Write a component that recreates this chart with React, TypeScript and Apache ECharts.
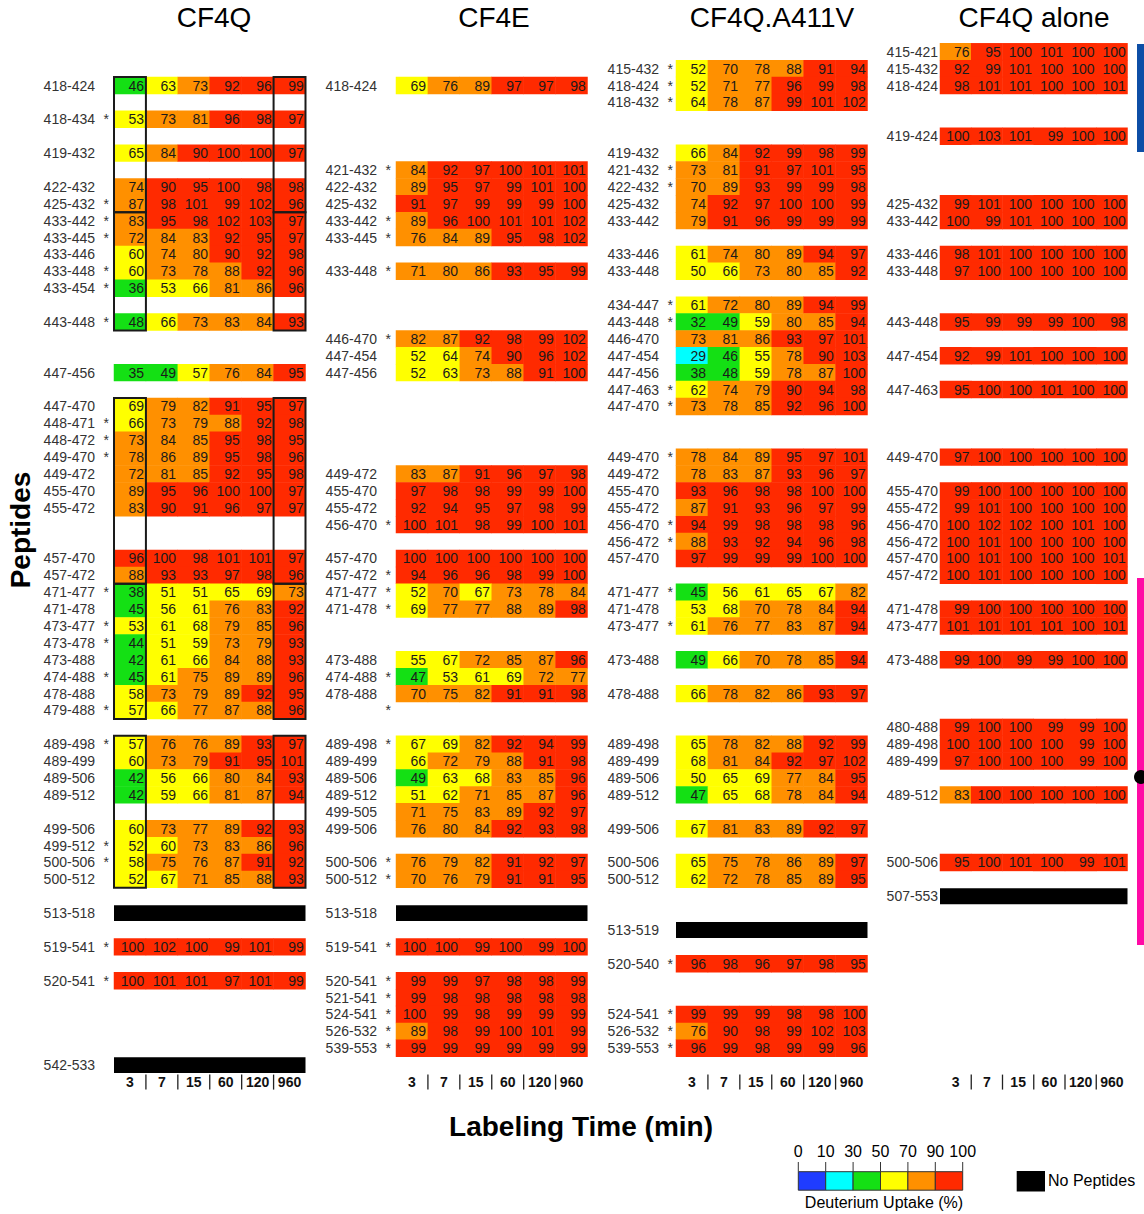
import React, { useEffect, useRef } from 'react';
import * as echarts from 'echarts';

const FONT = '"Liberation Sans", Arial, Helvetica, sans-serif';
const TIMES = ['3', '7', '15', '60', '120', '960'];
const SLOT_MIN = -2;
const SLOT_MAX = 58;

// ---------- CF4Q ----------
const CF4Q_NAMES = ['418-424','418-434','419-432','422-432','425-432','433-442','433-445','433-446','433-448','433-454','443-448','447-456','447-470','448-471','448-472','449-470','449-472','455-470','455-472','457-470','457-472','471-477','471-478','473-477','473-478','473-488','474-488','478-488','479-488','489-498','489-499','489-506','489-512','499-506','499-512','500-506','500-512','513-518','519-541','520-541','542-533'];
const CF4Q_ROWS = [0,2,4,6,7,8,9,10,11,12,14,17,19,20,21,22,23,24,25,28,29,30,31,32,33,34,35,36,37,39,40,41,42,44,45,46,47,49,51,53,58];
const CF4Q_STARRED = ['418-434','425-432','433-442','433-445','433-448','433-454','443-448','448-471','448-472','449-470','471-477','473-477','473-478','474-488','479-488','489-498','499-512','500-506','519-541','520-541'];
const CF4Q_NO_PEPTIDES = ['513-518', '542-533'];
const CF4Q_VALUES: (number[] | null)[] = [
  [46,63,73,92,96,99],
  [53,73,81,96,98,97],
  [65,84,90,100,100,97],
  [74,90,95,100,98,98],
  [87,98,101,99,102,96],
  [83,95,98,102,103,97],
  [72,84,83,92,95,97],
  [60,74,80,90,92,98],
  [60,73,78,88,92,96],
  [36,53,66,81,86,96],
  [48,66,73,83,84,93],
  [35,49,57,76,84,95],
  [69,79,82,91,95,97],
  [66,73,79,88,92,98],
  [73,84,85,95,98,95],
  [78,86,89,95,98,96],
  [72,81,85,92,95,98],
  [89,95,96,100,100,97],
  [83,90,91,96,97,97],
  [96,100,98,101,101,97],
  [88,93,93,97,98,96],
  [38,51,51,65,69,73],
  [45,56,61,76,83,92],
  [53,61,68,79,85,96],
  [44,51,59,73,79,93],
  [42,61,66,84,88,93],
  [45,61,75,89,89,96],
  [58,73,79,89,92,95],
  [57,66,77,87,88,96],
  [57,76,76,89,93,97],
  [60,73,79,91,95,101],
  [42,56,66,80,84,93],
  [42,59,66,81,87,94],
  [60,73,77,89,92,93],
  [52,60,73,83,86,96],
  [58,75,76,87,91,92],
  [52,67,71,85,88,93],
  null,
  [100,102,100,99,101,99],
  [100,101,101,97,101,99],
  null,
];
// outlined blocks (first / last peptide of each block) on the 3 and 960 min columns
const CF4Q_BOXES = [['418-424','425-432'],['433-442','443-448'],['447-470','457-472'],['471-477','479-488'],['489-498','500-512']];
const BOX_TIMES = ['3', '960'];

// ---------- CF4E ----------
const CF4E_NAMES = ['418-424','421-432','422-432','425-432','433-442','433-445','433-448','446-470','447-454','447-456','449-472','455-470','455-472','456-470','457-470','457-472','471-477','471-478','473-488','474-488','478-488','','489-498','489-499','489-506','489-512','499-505','499-506','500-506','500-512','513-518','519-541','520-541','521-541','524-541','526-532','539-553'];
const CF4E_ROWS = [0,5,6,7,8,9,11,15,16,17,23,24,25,26,28,29,30,31,34,35,36,37,39,40,41,42,43,44,46,47,49,51,53,54,55,56,57];
const CF4E_STARRED = ['421-432','433-442','433-445','433-448','446-470','456-470','457-472','471-477','471-478','474-488','','489-498','500-506','500-512','519-541','520-541','521-541','524-541','526-532','539-553'];
const CF4E_NO_PEPTIDES = ['513-518'];
const CF4E_VALUES: (number[] | null)[] = [
  [69,76,89,97,97,98],
  [84,92,97,100,101,101],
  [89,95,97,99,101,100],
  [91,97,99,99,99,100],
  [89,96,100,101,101,102],
  [76,84,89,95,98,102],
  [71,80,86,93,95,99],
  [82,87,92,98,99,102],
  [52,64,74,90,96,102],
  [52,63,73,88,91,100],
  [83,87,91,96,97,98],
  [97,98,98,99,99,100],
  [92,94,95,97,98,99],
  [100,101,98,99,100,101],
  [100,100,100,100,100,100],
  [94,96,96,98,99,100],
  [52,70,67,73,78,84],
  [69,77,77,88,89,98],
  [55,67,72,85,87,96],
  [47,53,61,69,72,77],
  [70,75,82,91,91,98],
  null,
  [67,69,82,92,94,99],
  [66,72,79,88,91,98],
  [49,63,68,83,85,96],
  [51,62,71,85,87,96],
  [71,75,83,89,92,97],
  [76,80,84,92,93,98],
  [76,79,82,91,92,97],
  [70,76,79,91,91,95],
  null,
  [100,100,99,100,99,100],
  [99,99,97,98,98,99],
  [99,98,98,98,98,98],
  [100,99,98,99,99,99],
  [89,98,99,100,101,99],
  [99,99,99,99,99,99],
];

// ---------- CF4Q.A411V ----------
const A411V_NAMES = ['415-432','418-424','418-432','419-432','421-432','422-432','425-432','433-442','433-446','433-448','434-447','443-448','446-470','447-454','447-456','447-463','447-470','449-470','449-472','455-470','455-472','456-470','456-472','457-470','471-477','471-478','473-477','473-488','478-488','489-498','489-499','489-506','489-512','499-506','500-506','500-512','513-519','520-540','524-541','526-532','539-553'];
const A411V_ROWS = [-1,0,1,4,5,6,7,8,10,11,13,14,15,16,17,18,19,22,23,24,25,26,27,28,30,31,32,34,36,39,40,41,42,44,46,47,50,52,55,56,57];
const A411V_STARRED = ['415-432','418-424','418-432','421-432','422-432','434-447','443-448','447-463','447-470','449-470','456-470','456-472','471-477','473-477','520-540','524-541','526-532','539-553'];
const A411V_NO_PEPTIDES = ['513-519'];
const A411V_VALUES: (number[] | null)[] = [
  [52,70,78,88,91,94],
  [52,71,77,96,99,98],
  [64,78,87,99,101,102],
  [66,84,92,99,98,99],
  [73,81,91,97,101,95],
  [70,89,93,99,99,98],
  [74,92,97,100,100,99],
  [79,91,96,99,99,99],
  [61,74,80,89,94,97],
  [50,66,73,80,85,92],
  [61,72,80,89,94,99],
  [32,49,59,80,85,94],
  [73,81,86,93,97,101],
  [29,46,55,78,90,103],
  [38,48,59,78,87,100],
  [62,74,79,90,94,98],
  [73,78,85,92,96,100],
  [78,84,89,95,97,101],
  [78,83,87,93,96,97],
  [93,96,98,98,100,100],
  [87,91,93,96,97,99],
  [94,99,98,98,98,96],
  [88,93,92,94,96,98],
  [97,99,99,99,100,100],
  [45,56,61,65,67,82],
  [53,68,70,78,84,94],
  [61,76,77,83,87,94],
  [49,66,70,78,85,94],
  [66,78,82,86,93,97],
  [65,78,82,88,92,99],
  [68,81,84,92,97,102],
  [50,65,69,77,84,95],
  [47,65,68,78,84,94],
  [67,81,83,89,92,97],
  [65,75,78,86,89,97],
  [62,72,78,85,89,95],
  null,
  [96,98,96,97,98,95],
  [99,99,99,98,98,100],
  [76,90,98,99,102,103],
  [96,99,98,99,99,96],
];

// ---------- CF4Q alone ----------
const ALONE_NAMES = ['415-421','415-432','418-424','419-424','425-432','433-442','433-446','433-448','443-448','447-454','447-463','449-470','455-470','455-472','456-470','456-472','457-470','457-472','471-478','473-477','473-488','480-488','489-498','489-499','489-512','500-506','507-553'];
const ALONE_ROWS = [-2,-1,0,3,7,8,10,11,14,16,18,22,24,25,26,27,28,29,31,32,34,38,39,40,42,46,48];
const ALONE_STARRED: string[] = [];
const ALONE_NO_PEPTIDES = ['507-553'];
const ALONE_VALUES: (number[] | null)[] = [
  [76,95,100,101,100,100],
  [92,99,101,100,100,100],
  [98,101,101,100,100,101],
  [100,103,101,99,100,100],
  [99,101,100,100,100,100],
  [100,99,101,100,100,100],
  [98,101,100,100,100,100],
  [97,100,100,100,100,100],
  [95,99,99,99,100,98],
  [92,99,101,100,100,100],
  [95,100,100,101,100,100],
  [97,100,100,100,100,100],
  [99,100,100,100,100,100],
  [99,101,100,100,100,100],
  [100,102,102,100,101,100],
  [100,101,100,100,100,100],
  [100,101,100,100,100,101],
  [100,101,100,100,100,100],
  [99,100,100,100,100,100],
  [101,101,101,101,100,101],
  [99,100,99,99,100,100],
  [99,100,100,99,99,100],
  [100,100,100,100,99,100],
  [97,100,100,100,99,100],
  [83,100,100,100,100,100],
  [95,100,101,100,99,101],
  null,
];

// ---------- colour scale ----------
const SCALE_BREAKS = [0, 10, 30, 50, 70, 90, 100];
const SCALE_COLORS = ['#1f3cff', '#00ffff', '#14e014', '#ffff00', '#ff9000', '#ff2a00'];

const PANELS = [
  { title: 'CF4Q', names: CF4Q_NAMES, rows: CF4Q_ROWS, starred: CF4Q_STARRED, noPep: CF4Q_NO_PEPTIDES, values: CF4Q_VALUES, boxes: CF4Q_BOXES },
  { title: 'CF4E', names: CF4E_NAMES, rows: CF4E_ROWS, starred: CF4E_STARRED, noPep: CF4E_NO_PEPTIDES, values: CF4E_VALUES, boxes: [] as string[][] },
  { title: 'CF4Q.A411V', names: A411V_NAMES, rows: A411V_ROWS, starred: A411V_STARRED, noPep: A411V_NO_PEPTIDES, values: A411V_VALUES, boxes: [] as string[][] },
  { title: 'CF4Q alone', names: ALONE_NAMES, rows: ALONE_ROWS, starred: ALONE_STARRED, noPep: ALONE_NO_PEPTIDES, values: ALONE_VALUES, boxes: [] as string[][] },
];

const LAYOUT = [
  { left: 114, width: 191.5, titleX: 214, labelMargin: 5, stars: true },
  { left: 396, width: 191.5, titleX: 494, labelMargin: 5, stars: true },
  { left: 676, width: 191.5, titleX: 772, labelMargin: 3, stars: true },
  { left: 940, width: 187.5, titleX: 1034, labelMargin: 2, stars: false },
];
const GRID_TOP = 43.3;
const GRID_HEIGHT = 1030.3;

function buildOption() {
  const slotCats: string[] = [];
  for (let s = SLOT_MIN; s <= SLOT_MAX; s++) slotCats.push(String(s));

  const grid: any[] = [];
  const xAxis: any[] = [];
  const yAxis: any[] = [];
  const series: any[] = [];
  const heatIdx: number[] = [];

  PANELS.forEach((p, i) => {
    const L = LAYOUT[i];
    grid.push({ left: L.left, width: L.width, top: GRID_TOP, height: GRID_HEIGHT, containLabel: false });
    xAxis.push({
      type: 'category', gridIndex: i, data: TIMES, position: 'bottom',
      axisLine: { show: false }, axisTick: { show: false }, splitLine: { show: false },
      axisLabel: { margin: 1, fontSize: 14, fontWeight: 'bold', color: '#111', fontFamily: FONT, interval: 0 },
    });
    const bySlot = new Map<string, { name: string; star: boolean }>();
    p.names.forEach((n, k) => bySlot.set(String(p.rows[k]), { name: n, star: p.starred.includes(n) }));
    yAxis.push({
      type: 'category', gridIndex: i, data: slotCats, inverse: true,
      axisLine: { show: false }, axisTick: { show: false }, splitLine: { show: false },
      axisLabel: {
        interval: 0, margin: L.labelMargin, fontSize: 14, color: '#333', fontFamily: FONT,
        formatter: (v: string) => {
          const r = bySlot.get(v);
          if (!r) return '';
          if (!L.stars) return r.name;
          return `{n|${r.name}}{s|${r.star ? '*' : ' '}}`;
        },
        rich: {
          n: { fontSize: 14, color: '#333', fontFamily: FONT },
          s: { fontSize: 14, color: '#333', fontFamily: FONT, width: 14, align: 'right' },
        },
      },
    });

    const heat: any[] = [];
    const black: any[] = [];
    p.names.forEach((n, k) => {
      const yi = p.rows[k] - SLOT_MIN;
      const vals = p.values[k];
      if (vals) vals.forEach((v, j) => heat.push([j, yi, v]));
      else if (p.noPep.includes(n)) black.push([0, yi]);
    });

    heatIdx.push(series.length);
    series.push({
      type: 'heatmap', xAxisIndex: i, yAxisIndex: i, data: heat,
      itemStyle: { borderWidth: 0 },
      emphasis: { disabled: true },
      label: {
        show: true, position: 'insideRight', distance: 2, fontSize: 14, color: '#1a1a1a', fontFamily: FONT,
        formatter: (pr: any) => String(pr.value[2]),
      },
    });

    series.push({
      type: 'custom', xAxisIndex: i, yAxisIndex: i, data: black, silent: true, z: 3,
      renderItem: (_params: any, api: any) => {
        const c = api.coord([0, api.value(1)]);
        const s = api.size([1, 1]);
        return {
          type: 'rect',
          shape: { x: c[0] - s[0] / 2, y: c[1] - s[1] / 2 + 0.5, width: s[0] * TIMES.length, height: s[1] - 1 },
          style: { fill: '#000' },
        };
      },
    });

    // separators between the time labels
    series.push({
      type: 'custom', xAxisIndex: i, yAxisIndex: i, silent: true, z: 3,
      data: TIMES.slice(1).map((_, j) => [j + 1, 0]),
      renderItem: (params: any, api: any) => {
        const c = api.coord([api.value(0), 0]);
        const bw = api.size([1, 0])[0];
        const yb = params.coordSys.y + params.coordSys.height;
        return {
          type: 'line',
          shape: { x1: c[0] - bw / 2, y1: yb + 1, x2: c[0] - bw / 2, y2: yb + 16 },
          style: { stroke: '#222', lineWidth: 1.3 },
        };
      },
    });

    if (p.boxes.length) {
      const boxData: any[] = [];
      p.boxes.forEach(([a, b]) => {
        const ya = p.rows[p.names.indexOf(a)] - SLOT_MIN;
        const yb = p.rows[p.names.indexOf(b)] - SLOT_MIN;
        BOX_TIMES.forEach((t) => boxData.push([TIMES.indexOf(t), ya, yb]));
      });
      series.push({
        type: 'custom', xAxisIndex: i, yAxisIndex: i, silent: true, z: 4, data: boxData,
        renderItem: (_params: any, api: any) => {
          const c0 = api.coord([api.value(0), api.value(1)]);
          const c1 = api.coord([api.value(0), api.value(2)]);
          const s = api.size([1, 1]);
          return {
            type: 'rect',
            shape: { x: c0[0] - s[0] / 2, y: c0[1] - s[1] / 2, width: s[0], height: c1[1] - c0[1] + s[1] },
            style: { fill: 'none', stroke: '#1a1a1a', lineWidth: 2 },
          };
        },
      });
    }
  });

  const graphic: any[] = [];
  const txt = (x: number, y: number, text: string, font: string, align = 'center', extra: any = {}) => ({
    type: 'text', x, y, ...extra,
    style: { text, font, fill: '#000', align, verticalAlign: 'middle', textAlign: align, textVerticalAlign: 'middle' },
  });
  PANELS.forEach((p, i) => graphic.push(txt(LAYOUT[i].titleX, 17, p.title, `28px ${FONT}`)));
  graphic.push(txt(20, 530, 'Peptides', `bold 28px ${FONT}`, 'center', { rotation: Math.PI / 2 }));
  graphic.push(txt(581, 1126, 'Labeling Time (min)', `bold 28px ${FONT}`));

  // colour legend
  const lx = 798.3, seg = 27.4, ly = 1171.7, lh = 18.5;
  SCALE_COLORS.forEach((c, k) => {
    graphic.push({ type: 'rect', shape: { x: lx + k * seg, y: ly, width: seg, height: lh }, style: { fill: c, stroke: '#333', lineWidth: 1 } });
  });
  SCALE_BREAKS.forEach((b, k) => {
    graphic.push({ type: 'line', shape: { x1: lx + k * seg, y1: 1162, x2: lx + k * seg, y2: ly }, style: { stroke: '#333', lineWidth: 1 } });
    graphic.push(txt(lx + k * seg, 1151.5, String(b), `16px ${FONT}`));
  });
  graphic.push(txt(884, 1202.5, 'Deuterium Uptake (%)', `16px ${FONT}`));
  graphic.push({ type: 'rect', shape: { x: 1016.7, y: 1171, width: 28.3, height: 20.5 }, style: { fill: '#000' } });
  graphic.push(txt(1048, 1180.5, 'No Peptides', `16px ${FONT}`, 'left'));

  // side annotation bars
  graphic.push({ type: 'rect', shape: { x: 1137, y: 44, width: 7, height: 108 }, style: { fill: '#0d4ea6' } });
  graphic.push({ type: 'rect', shape: { x: 1137, y: 578, width: 7, height: 367 }, style: { fill: '#ff0aa5' } });
  graphic.push({ type: 'circle', shape: { cx: 1141, cy: 777, r: 7 }, style: { fill: '#000' } });

  return {
    animation: false,
    backgroundColor: '#fff',
    textStyle: { fontFamily: FONT },
    grid, xAxis, yAxis, series, graphic,
    visualMap: {
      type: 'piecewise', show: false, dimension: 2, seriesIndex: heatIdx,
      pieces: SCALE_COLORS.map((c, k) =>
        k === SCALE_COLORS.length - 1
          ? { gte: SCALE_BREAKS[k], color: c }
          : { gte: SCALE_BREAKS[k], lt: SCALE_BREAKS[k + 1], color: c }),
    },
  };
}

export default function App() {
  const ref = useRef<HTMLDivElement>(null);
  useEffect(() => {
    document.body.style.margin = '0';
    if (!ref.current) return;
    const chart = echarts.init(ref.current, undefined, { renderer: 'svg' });
    chart.setOption(buildOption() as any);
    return () => chart.dispose();
  }, []);
  return <div ref={ref} style={{ width: 1144, height: 1214 }} />;
}
